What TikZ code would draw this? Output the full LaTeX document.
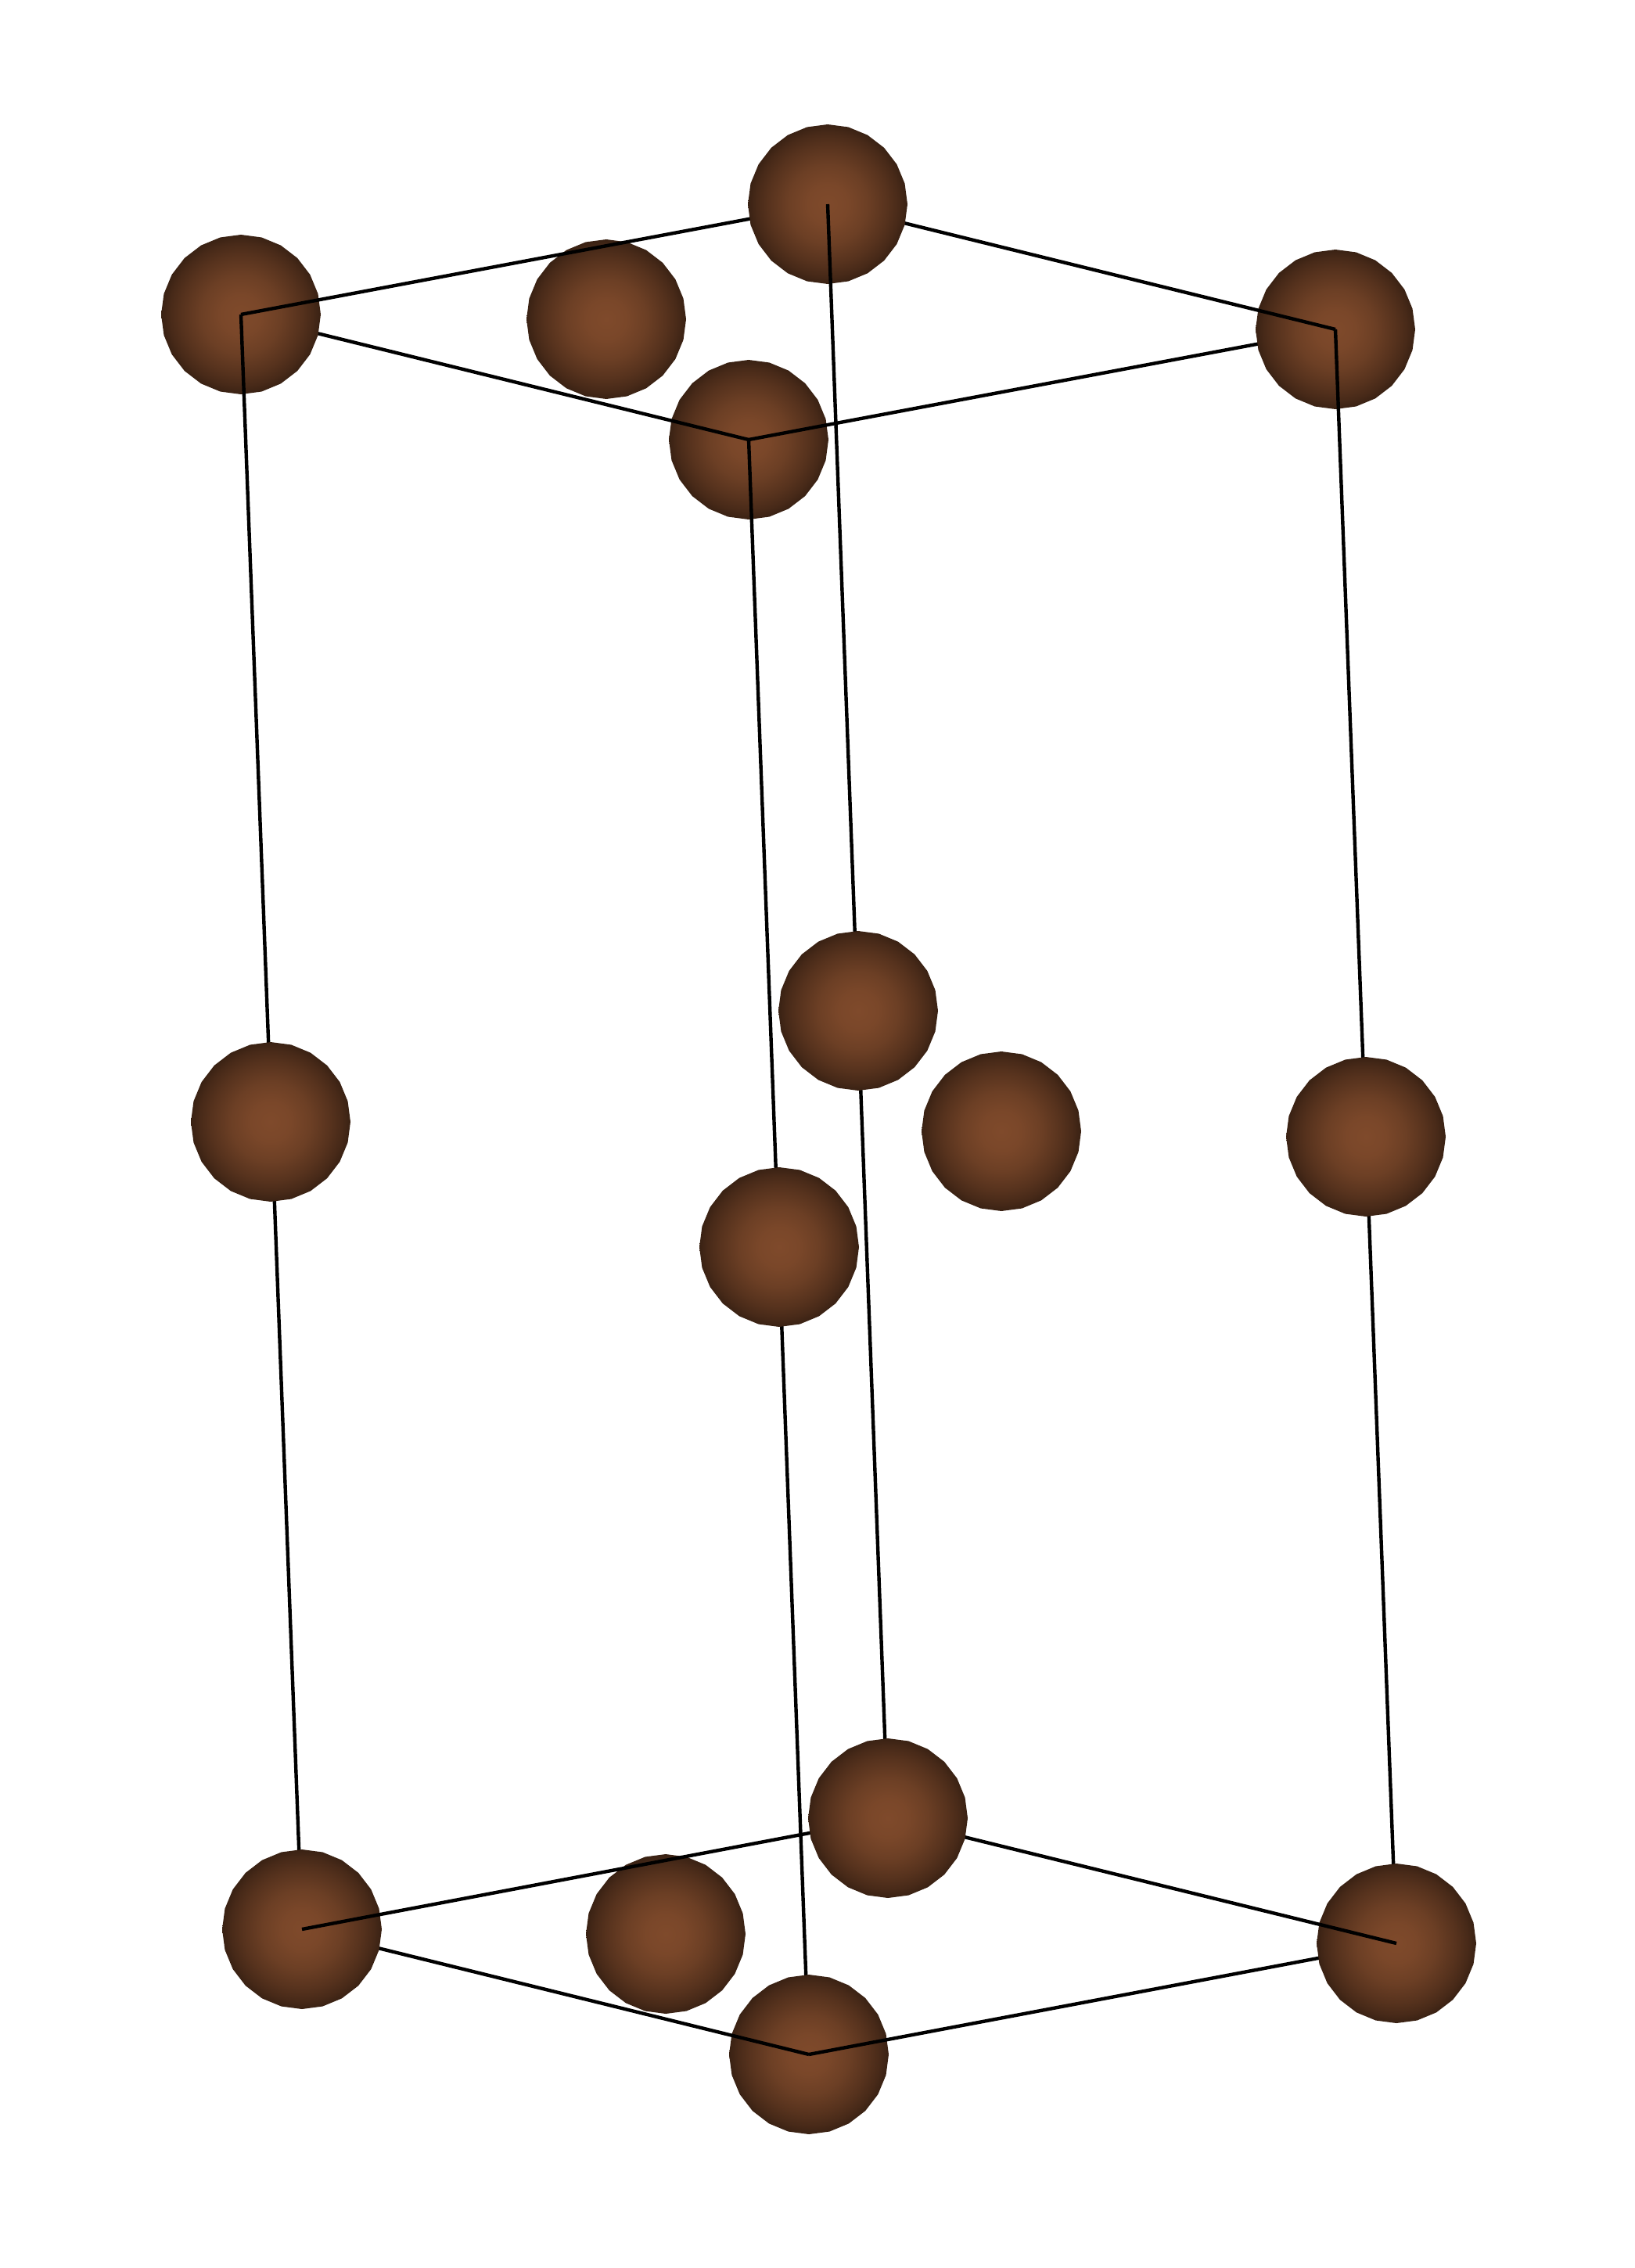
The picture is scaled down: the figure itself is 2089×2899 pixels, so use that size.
\documentclass[tikz,border=0pt]{standalone}
\usetikzlibrary{shapes.geometric}
\pgfdeclareradialshading{atomshade}{\pgfpointorigin}{%
rgb(0bp)=(.498,.290,.169);
rgb(6.25bp)=(.478,.278,.162);
rgb(12.5bp)=(.423,.247,.144);
rgb(18.75bp)=(.339,.197,.115);
rgb(22.5bp)=(.279,.162,.095);
rgb(25bp)=(.224,.131,.076);
rgb(50bp)=(.224,.131,.076)}
\tikzset{
  atom/.style={regular polygon,regular polygon sides=24,shape border rotate=7.5,
    minimum size=102pt,inner sep=0pt,outer sep=0pt,shading=atomshade,draw=none},
  bond/.style={draw=black,line width=2.2pt,line cap=butt,line join=miter}
}
\begin{document}
\begin{tikzpicture}[x=0.5pt,y=-0.5pt]
\useasboundingbox (0,0) rectangle (2089,2899);
% lattice sites
\coordinate (tl) at (308,402);
\coordinate (tb) at (1058,261);
\coordinate (tf) at (957,562);
\coordinate (tr) at (1707,421);
\coordinate (bl) at (386,2466);
\coordinate (bb) at (1135,2324);
\coordinate (bf) at (1034,2626);
\coordinate (br) at (1785,2484);
% top layer
\node[atom] (atf) at (tf) {};
\node[atom] (atm) at (775,408) {};
\draw[bond] (tf) -- (tr);
\node[atom] (atr) at (tr) {};
\draw[bond] (tb) -- (tr);
\draw[bond] (tl) -- (tf);
\node[atom] (atl) at (tl) {};
\draw[bond] (tl) -- (tb);
\node[atom] (atb) at (tb) {};
% verticals
\draw[bond] (tl) -- (bl);
\draw[bond] (tb) -- (bb);
\draw[bond] (tf) -- (bf);
\draw[bond] (tr) -- (br);
% middle layer
\node[atom] (aml) at (346,1434) {};
\node[atom] (amb) at (1097,1292) {};
\node[atom] (amf) at (996,1594) {};
\node[atom] (amr) at (1746,1453) {};
\node[atom] (amm) at (1280,1446) {};
% bottom layer
\node[atom] (abf) at (bf) {};
\node[atom] (abm) at (851,2472) {};
\draw[bond] (bf) -- (br);
\node[atom] (abr) at (br) {};
\draw[bond] (bb) -- (br);
\draw[bond] (bl) -- (bf);
\node[atom] (abl) at (bl) {};
\draw[bond] (bl) -- (bb);
\node[atom] (abb) at (bb) {};
\end{tikzpicture}
\end{document}
